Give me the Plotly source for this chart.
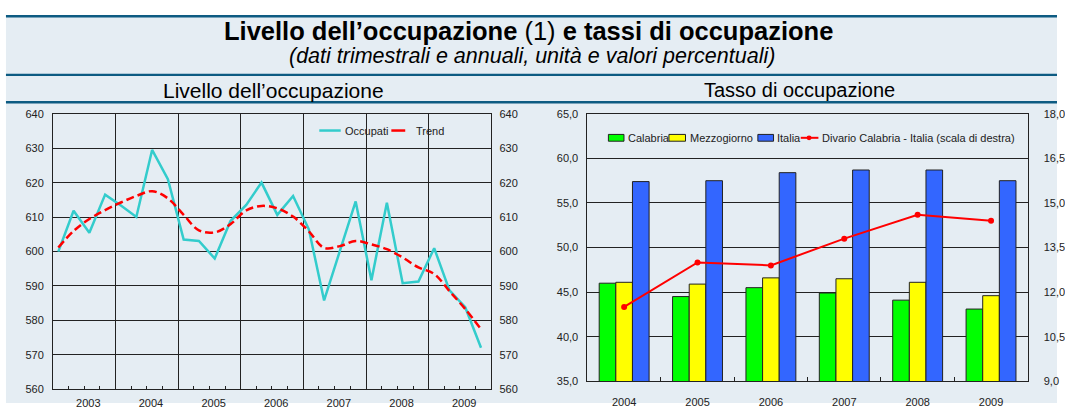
import plotly.graph_objects as go

W, H = 1065, 409

# ---------------- data: left chart (quarterly, thousands) ----------------
quarter_dates = [
    "2003-02-01", "2003-05-01", "2003-08-01", "2003-11-01",
    "2004-02-01", "2004-05-01", "2004-08-01", "2004-11-01",
    "2005-02-01", "2005-05-01", "2005-08-01", "2005-11-01",
    "2006-02-01", "2006-05-01", "2006-08-01", "2006-11-01",
    "2007-02-01", "2007-05-01", "2007-08-01", "2007-11-01",
    "2008-02-01", "2008-05-01", "2008-08-01", "2008-11-01",
    "2009-02-01", "2009-05-01", "2009-08-01", "2009-11-01",
]
occupati = [600.0, 611.9, 605.5, 616.6, 613.4, 610.1, 629.6, 621.1,
            603.5, 603.1, 598.0, 608.9, 613.6, 620.1, 610.7, 616.2,
            606.5, 585.8, 600.2, 614.6, 591.7, 614.2, 590.8, 591.3,
            601.0, 588.7, 583.8, 572.0]
trend = [601.2, 606.0, 609.5, 612.1, 614.3, 616.2, 617.6, 615.5,
         610.7, 606.2, 605.6, 608.0, 612.0, 613.3, 612.6, 610.2,
         605.9, 601.1, 601.6, 603.1, 602.1, 600.7, 598.3, 595.4,
         593.5, 588.5, 583.3, 577.4]

# ---------------- data: right chart (annual, %) ----------------
years = ["2004", "2005", "2006", "2007", "2008", "2009"]
calabria = [46.0, 44.5, 45.5, 44.9, 44.1, 43.1]
mezzogiorno = [46.1, 45.9, 46.6, 46.5, 46.1, 44.6]
italia = [57.4, 57.5, 58.4, 58.7, 58.7, 57.5]
divario = [11.5, 13.0, 12.9, 13.8, 14.6, 14.4]

left_ticks = [560, 570, 580, 590, 600, 610, 620, 630, 640]
right_ticks = [35, 40, 45, 50, 55, 60, 65]
right2_ticks = [9, 10.5, 12, 13.5, 15, 16.5, 18]

FONT = "Liberation Sans, Arial, sans-serif"
BG = "#E5EDF3"
DARK = "#0D5B82"
GRID = "#222222"


def px_x(p):
    return p / W


def px_y(p):
    return 1 - p / H


fig = go.Figure()

# left chart
fig.add_trace(go.Scatter(x=quarter_dates, y=occupati, mode="lines", name="Occupati",
                         line=dict(color="#33CCCC", width=2.5), xaxis="x", yaxis="y",
                         showlegend=False, hoverinfo="skip"))
fig.add_trace(go.Scatter(x=quarter_dates, y=trend, mode="lines", name="Trend",
                         line=dict(color="#FF0000", width=2.5, dash="8px,4px", shape="spline"),
                         xaxis="x", yaxis="y3", showlegend=False, hoverinfo="skip"))

# right chart
bar_line = dict(color="#222222", width=1)
fig.add_trace(go.Bar(x=years, y=calabria, name="Calabria", marker=dict(color="#00FF00", line=bar_line),
                     xaxis="x2", yaxis="y2", showlegend=False, hoverinfo="skip"))
fig.add_trace(go.Bar(x=years, y=mezzogiorno, name="Mezzogiorno", marker=dict(color="#FFFF00", line=bar_line),
                     xaxis="x2", yaxis="y2", showlegend=False, hoverinfo="skip"))
fig.add_trace(go.Bar(x=years, y=italia, name="Italia", marker=dict(color="#3366FF", line=bar_line),
                     xaxis="x2", yaxis="y2", showlegend=False, hoverinfo="skip"))
fig.add_trace(go.Scatter(x=years, y=divario, mode="lines+markers",
                         name="Divario Calabria - Italia (scala di destra)",
                         line=dict(color="#FF0000", width=2), marker=dict(size=6, color="#FF0000"),
                         xaxis="x2", yaxis="y4", showlegend=False, hoverinfo="skip"))

tickfont = dict(family=FONT, size=11, color="#222222")

L_DOM_X = [px_x(53.4), px_x(495.2)]
L_DOM_Y = [px_y(394.6), px_y(111.5)]
R_DOM_X = [px_x(591.9), px_x(1035.5)]
R_DOM_Y = [px_y(386.6), px_y(111.1)]

fig.update_layout(
    width=W, height=H,
    margin=dict(l=0, r=0, t=0, b=0),
    paper_bgcolor="white",
    plot_bgcolor="white",
    separators=",.",
    barmode="group", bargap=0.32, bargroupgap=0,
    font=dict(family=FONT, color="#222222"),
    xaxis=dict(domain=L_DOM_X, anchor="y", type="date",
               range=["2003-01-01", "2010-01-01"], tick0="2003-01-01", dtick="M12",
               ticklabelmode="period", tickformat="%Y", ticks="",
               showgrid=True, gridcolor=GRID, gridwidth=1,
               showline=True, linecolor=GRID, linewidth=1, mirror=True,
               minor=dict(dtick="M3", ticks="inside", ticklen=3, tickcolor=GRID, showgrid=False),
               tickfont=tickfont, ticklabelstandoff=4, ticklabelshift=4, fixedrange=True),
    yaxis=dict(domain=L_DOM_Y, anchor="x", range=[560, 640], tickvals=left_ticks,
               showgrid=True, gridcolor=GRID, gridwidth=1, zeroline=False,
               showline=True, linecolor=GRID, linewidth=1, mirror=True, ticks="",
               tickfont=tickfont, ticklabelstandoff=6),
    yaxis3=dict(overlaying="y", anchor="x", side="right", range=[560, 640], tickvals=left_ticks,
                showgrid=False, zeroline=False, ticks="", tickfont=tickfont, ticklabelstandoff=7),
    xaxis2=dict(domain=R_DOM_X, anchor="y2", type="category", tickson="boundaries",
                ticks="inside", ticklen=4, tickcolor=GRID,
                showline=True, linecolor=GRID, linewidth=1, mirror=True,
                tickfont=tickfont, ticklabelstandoff=11),
    yaxis2=dict(domain=R_DOM_Y, anchor="x2", range=[35, 65], tickvals=right_ticks,
                tickformat=".1f", showgrid=True, gridcolor=GRID, gridwidth=1, zeroline=False,
                showline=True, linecolor=GRID, linewidth=1, mirror=True, ticks="",
                tickfont=tickfont, ticklabelstandoff=6),
    yaxis4=dict(overlaying="y2", anchor="x2", side="right", range=[9, 18], tickvals=right2_ticks,
                tickformat=".1f", showgrid=False, zeroline=False, ticks="",
                tickfont=tickfont, ticklabelstandoff=15),
)

shapes = []
# background panel
shapes.append(dict(type="rect", xref="paper", yref="paper", x0=px_x(6), x1=1, y0=0, y1=px_y(10),
                   fillcolor=BG, line=dict(width=0), layer="below"))
# separator lines
for yy in (10.6, 71.0, 99.2):
    shapes.append(dict(type="line", xref="paper", yref="paper", x0=px_x(6), x1=1,
                       y0=px_y(yy), y1=px_y(yy), line=dict(color=DARK, width=2.4)))

annotations = [
    dict(text="<b>Livello dell’occupazione</b> (1) <b>e tassi di occupazione</b>",
         x=px_x(532), y=px_y(26), xref="paper", yref="paper", showarrow=False,
         xanchor="center", yanchor="middle", font=dict(family=FONT, size=25.5, color="#000000")),
    dict(text="<i>(dati trimestrali e annuali, unità e valori percentuali)</i>",
         x=px_x(536), y=px_y(51), xref="paper", yref="paper", showarrow=False,
         xanchor="center", yanchor="middle", font=dict(family=FONT, size=21.5, color="#000000")),
    dict(text="Livello dell’occupazione", x=px_x(276), y=px_y(87), xref="paper", yref="paper",
         showarrow=False, xanchor="center", yanchor="middle",
         font=dict(family=FONT, size=21, color="#000000")),
    dict(text="Tasso di occupazione", x=px_x(806), y=px_y(87), xref="paper", yref="paper",
         showarrow=False, xanchor="center", yanchor="middle",
         font=dict(family=FONT, size=20, color="#000000")),
]

legfont = dict(family=FONT, size=11, color="#222222")

# left legend
ly = px_y(128.3)
shapes.append(dict(type="line", xref="paper", yref="paper", x0=px_x(321.7), x1=px_x(343.3),
                   y0=ly, y1=ly, line=dict(color="#33CCCC", width=2.5)))
annotations.append(dict(text="Occupati", x=px_x(345.5), y=ly, xref="paper", yref="paper",
                        showarrow=False, xanchor="left", yanchor="middle", font=legfont))
shapes.append(dict(type="line", xref="paper", yref="paper", x0=px_x(394.3), x1=px_x(408.3),
                   y0=ly, y1=ly, line=dict(color="#FF0000", width=2.5)))
annotations.append(dict(text="Trend", x=px_x(417.5), y=ly, xref="paper", yref="paper",
                        showarrow=False, xanchor="left", yanchor="middle", font=legfont))

# right legend
ry = px_y(135.8)
for x0, x1, col in ((613.0, 628.7, "#00FF00"), (674.0, 690.7, "#FFFF00"), (763.6, 779.4, "#3366FF")):
    shapes.append(dict(type="rect", xref="paper", yref="paper", x0=px_x(x0), x1=px_x(x1),
                       y0=px_y(139.3), y1=px_y(132.3), fillcolor=col,
                       line=dict(color="#222222", width=1)))
for tx, txt in ((631.0, "Calabria"), (693.0, "Mezzogiorno"), (781.0, "Italia"),
                (826.0, "Divario Calabria - Italia (scala di destra)")):
    annotations.append(dict(text=txt, x=px_x(tx), y=ry, xref="paper", yref="paper",
                            showarrow=False, xanchor="left", yanchor="middle", font=legfont))
shapes.append(dict(type="line", xref="paper", yref="paper", x0=px_x(806.8), x1=px_x(824.6),
                   y0=ry, y1=ry, line=dict(color="#FF0000", width=2)))
shapes.append(dict(type="circle", xref="paper", yref="paper", x0=px_x(812.7), x1=px_x(817.7),
                   y0=px_y(138.3), y1=px_y(133.3), fillcolor="#FF0000", line=dict(width=0)))

fig.update_layout(shapes=shapes, annotations=annotations)

fig.write_html("out.html", config={"displayModeBar": False, "staticPlot": True},
               post_script="document.body.style.margin='0';document.body.style.overflow='hidden';")
